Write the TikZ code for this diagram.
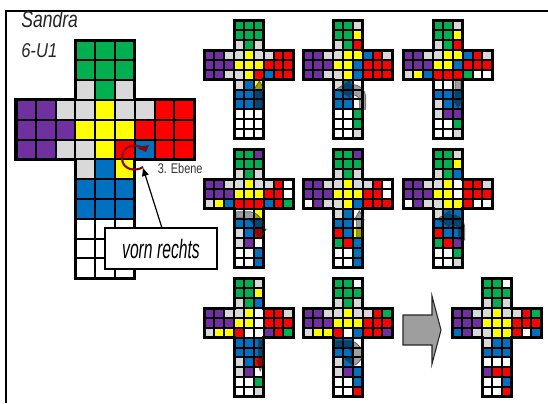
\documentclass[tikz,border=0pt]{standalone}
\usepackage{fontspec}
\setmainfont{Liberation Sans}
\usetikzlibrary{arrows.meta}
\definecolor{netg}{HTML}{00B050}
\definecolor{nety}{HTML}{FFFF00}
\definecolor{netr}{HTML}{FF0000}
\definecolor{netb}{HTML}{0070C0}
\definecolor{netp}{HTML}{7030A0}
\definecolor{netw}{HTML}{FFFFFF}
\definecolor{nets}{HTML}{D9D9D9}
\definecolor{curl}{HTML}{7F0A0A}
\tikzset{
  netcell/.style={draw=black,line width=1.5pt},
  netedge/.style={draw=black,line width=2.3pt,line join=miter},
  ovl/.style={fill=black,fill opacity=0.38,draw=black!80,draw opacity=0.75,line width=0.5pt,line join=round},
  zoomed/.style={x=0.25pt,y=-0.25pt},
  narrow/.style={inner sep=0pt,anchor=base west,font=\itshape,text=black!85}
}
% #1 x, #2 y, #3 pitch, #4 cells (54 letters, comma separated)
\newcommand{\cubenet}[4]{%
  \begin{scope}[shift={(#1,#2)}]
  \foreach \c [count=\i from 0] in {#4}{%
    \pgfmathtruncatemacro\cx{\i<9 ? 3+mod(\i,3) : (\i<36 ? mod(\i-9,9) : 3+mod(\i-36,3))}%
    \pgfmathtruncatemacro\cy{\i<9 ? int(\i/3) : (\i<36 ? 3+int((\i-9)/9) : 6+int((\i-36)/3))}%
    \path[netcell,fill=net\c] ({\cx*#3},{\cy*#3}) rectangle ++(#3,#3);
  }
  \path[netedge] (3*#3,0) -- (6*#3,0) -- (6*#3,3*#3) -- (9*#3,3*#3) -- (9*#3,6*#3) -- (6*#3,6*#3)
     -- (6*#3,12*#3) -- (3*#3,12*#3) -- (3*#3,6*#3) -- (0,6*#3) -- (0,3*#3) -- (3*#3,3*#3) -- cycle;
  \end{scope}%
}
\begin{document}
\begin{tikzpicture}[x=0.75pt,y=-0.75pt]
\useasboundingbox (0,0) rectangle (548,403);
\fill[white] (0,0) rectangle (548,403);
% page frame
\draw[black,line width=1.5pt] (6,403) -- (6,11) -- (548,11);
% names
\begin{scope}
\clip (8,12) rectangle (200,60);
\node[narrow] (name) at (21,28) {\fontsize{15}{15}\selectfont\scalebox{0.88}[1.15]{Sandra}};
\end{scope}
\node[narrow] (group) at (21,57) {\fontsize{15}{15}\selectfont\scalebox{0.83}[1]{6-U1}};
% large net
\cubenet{16}{40.5}{19.8}{g,g,g,g,g,g,s,g,s,
 p,p,s,s,y,s,s,r,r,
 p,p,p,y,y,y,r,r,r,
 p,p,s,s,y,r,b,r,r,
 s,b,y,b,b,b,b,b,b,
 w,w,w,w,w,w,w,w,w}
% small nets
\cubenet{204.5}{20.5}{9.87}{g,g,g,g,g,g,s,g,s,
 p,p,s,s,y,s,s,r,r, p,p,p,y,y,y,r,r,r, p,p,s,s,y,r,b,r,r,
 s,b,y,b,b,b,b,b,b, w,w,w,w,w,w,w,w,w}
\cubenet{303.5}{20.5}{9.87}{g,g,s,g,g,y,s,g,r,
 p,p,s,s,y,y,b,r,s, p,p,p,y,y,b,r,r,r, p,p,s,s,y,b,r,r,r,
 s,b,w,b,b,w,b,b,w, w,w,g,w,w,g,w,w,s}
\cubenet{403.5}{20.5}{9.87}{g,g,s,g,g,y,s,g,r,
 p,p,s,s,y,y,b,r,s, p,p,p,y,y,b,r,r,r, s,y,b,r,r,r,g,w,w,
 w,w,w,b,b,b,s,b,b, s,p,p,w,w,g,w,w,s}
\cubenet{204.5}{149.5}{9.87}{g,g,p,g,g,g,s,g,s,
 p,p,s,s,y,s,s,r,w, p,p,p,y,y,y,r,r,w, s,y,b,r,r,r,b,r,g,
 w,w,y,b,b,b,s,b,r, s,p,w,w,w,b,w,w,b}
\cubenet{303.5}{149.5}{9.87}{g,g,p,g,g,g,s,g,s,
 p,p,s,s,y,s,s,r,w, p,p,p,y,y,y,r,r,w, w,p,s,s,y,b,r,r,r,
 s,b,w,b,b,w,r,b,y, g,r,b,w,w,b,w,w,b}
\cubenet{403.5}{149.5}{9.87}{g,g,s,g,g,y,s,g,b,
 p,p,s,s,y,w,r,r,s, p,p,p,y,y,w,r,r,r, w,p,s,s,y,y,r,w,w,
 s,b,b,b,b,b,r,b,b, g,r,p,w,w,g,w,w,s}
\cubenet{204.5}{278.5}{9.87}{g,g,s,g,g,y,s,g,b,
 p,p,s,s,y,w,r,r,s, p,p,p,y,y,w,r,r,r, s,y,y,r,w,w,p,r,g,
 b,b,b,b,b,b,s,b,r, s,p,w,w,w,g,w,w,s}
\cubenet{303.5}{278.5}{9.87}{g,g,w,g,g,g,s,g,s,
 p,p,s,s,y,s,s,r,g, p,p,p,y,y,y,r,r,r, s,y,y,r,w,b,r,r,p,
 b,b,w,b,b,w,s,b,w, s,p,b,w,w,b,w,w,r}
\cubenet{452.5}{278.5}{9.87}{g,g,w,g,g,g,s,g,s,
 p,p,s,s,y,s,s,r,g, p,p,p,y,y,y,r,r,r, b,p,s,s,y,y,r,w,b,
 s,b,b,b,b,b,w,w,w, p,r,r,w,w,b,w,w,r}
% overlay arrows, coordinates read from 3x crops
\begin{scope}[shift={(200,15)},zoomed]
\path[ovl] (178,198) -- (193,222) -- (187,222) -- (187,279) -- (166,279) -- (166,222) -- (163,222) -- cycle;
\end{scope}
\begin{scope}[shift={(300,15)},zoomed]
\path[ovl] (110,222) -- (150,197) -- (150,208) .. controls (180,208) and (197,225) .. (197,245) -- (197,283) -- (178,283) -- (178,255) .. controls (178,245) and (165,238) .. (150,238) -- (150,248) -- cycle;
\end{scope}
\begin{scope}[shift={(400,15)},zoomed]
\path[ovl] (174,278) -- (188,255) -- (183,255) -- (183,190) -- (165,190) -- (165,255) -- (160,255) -- cycle;
\end{scope}
\begin{scope}[shift={(200,145)},zoomed]
\path[ovl] (110,200) -- (150,200) .. controls (175,203) and (190,225) .. (192,252) -- (199,252) -- (178,282) -- (157,252) -- (165,252) .. controls (162,235) and (150,220) .. (130,218) -- (110,218) -- cycle;
\end{scope}
\begin{scope}[shift={(300,145)},zoomed]
\path[ovl] (178,197) -- (193,225) -- (187,225) -- (187,277) -- (169,277) -- (169,225) -- (163,225) -- cycle;
\end{scope}
\begin{scope}[shift={(400,145)},zoomed]
\path[ovl] (112,222) -- (150,197) -- (150,208) .. controls (176,208) and (194,225) .. (194,245) -- (194,285) -- (175,285) -- (175,255) .. controls (175,245) and (165,238) .. (150,238) -- (150,248) -- cycle;
\end{scope}
\begin{scope}[shift={(200,273)},zoomed]
\path[ovl] (181,295) -- (192,262) -- (187,262) -- (187,200) -- (175,200) -- (175,262) -- (170,262) -- cycle;
\end{scope}
\begin{scope}[shift={(300,273)},zoomed]
\path[ovl] (107,203) -- (155,203) .. controls (178,212) and (190,230) .. (186,250) .. controls (182,265) and (172,274) .. (160,278) -- (135,258) -- (152,250) .. controls (158,240) and (152,228) .. (140,222) -- (107,222) -- cycle;
\end{scope}
% block arrow
\path[draw=black!85,fill=black!38,line width=0.8pt,line join=miter] (403,315) -- (432,315) -- (432,296) -- (441,330) -- (432,364) -- (432,345) -- (403,345) -- cycle;
% circular arrow on the large net
\draw[curl,line width=1.6pt] (143,167) .. controls (136,172) and (122,170) .. (122,158) .. controls (122,146) and (134,143) .. (143,148);
\fill[curl] (149,145) -- (146,152) -- (138,148.5) -- (141,146.5) -- cycle;
% labels
\node[inner sep=0pt,anchor=base west,text=black!80] (level) at (157.5,173) {\fontsize{10.5}{10.5}\selectfont\scalebox{0.78}[1]{3. Ebene}};
\node[draw=black,line width=1.1pt,fill=white,minimum width=84pt,minimum height=30.5pt,inner sep=0pt] (call) at (161,248.5) {\itshape\fontsize{19}{19}\selectfont\scalebox{0.62}[1.05]{vorn rechts}};
\coordinate (target) at (143,168);
\coordinate (callpt) at (162,228);
\draw[black,line width=0.9pt,-{Triangle[length=6pt,width=5pt]}] (callpt) -- (target);
\end{tikzpicture}
\end{document}
